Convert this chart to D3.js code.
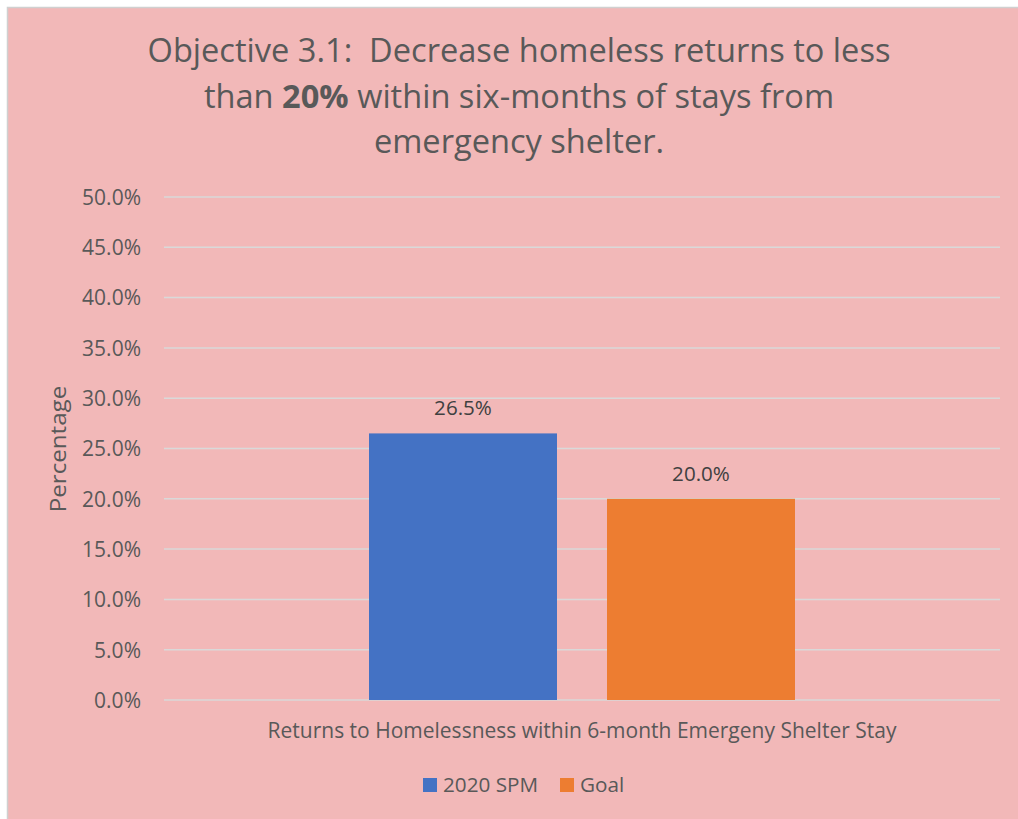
<!DOCTYPE html>
<html>
<head>
<meta charset="utf-8">
<script src="https://cdn.jsdelivr.net/npm/d3@7"></script>
<style>
  body { margin: 0; background: #fff; }
  svg { display: block; }
  svg text { font-family: "Open Sans", sans-serif; }
</style>
</head>
<body>
<svg id="chart"></svg>
<script>
// chart data
var categories = ["Returns to Homelessness within 6-month Emergeny Shelter Stay"];
var seriesNames = ["2020 SPM", "Goal"];
var seriesValues = [26.5, 20.0];
var seriesColors = ["#4472C4", "#ED7D31"];
var yTicks = [0, 5, 10, 15, 20, 25, 30, 35, 40, 45, 50];

var width = 1018, height = 819;
var margin = { left: 164, right: 18, top: 197, bottom: 119 };
var innerW = width - margin.left - margin.right,
    innerH = height - margin.top - margin.bottom;

var svg = d3.select('#chart')
    .attr('width', width)
    .attr('height', height)

// background + border
svg.append('rect')
    .attr('x', 0).attr('y', 0)
    .attr('width', width).attr('height', height)
    .attr('fill', '#fff')
svg.append('rect')
    .attr('x', 7.5).attr('y', 7.5)
    .attr('width', width + 10).attr('height', height + 10)
    .attr('fill', '#F2B8B8')
    .attr('stroke', '#D0D0D0')
    .attr('stroke-width', 1.5)

var chartGroup = svg.append('g')
    .attr('transform', 'translate(' + margin.left + ',' + margin.top + ')')

var yScale = d3.scaleLinear()
    .domain([0, 50])
    .range([innerH, 0])

var xScale = d3.scaleBand()
    .domain(categories)
    .range([0, innerW])

// two bars of 188px with a 50px gap, centred in the band
var inner = d3.scaleBand()
    .domain(seriesNames)
    .range([xScale.bandwidth() / 2 - 213, xScale.bandwidth() / 2 + 213])
    .paddingInner(50 / 238)

// gridlines
chartGroup.selectAll('line.grid')
    .data(yTicks)
    .enter()
    .append('line')
    .attr('class', 'grid')
    .attr('x1', 0)
    .attr('x2', innerW)
    .attr('y1', d => yScale(d))
    .attr('y2', d => yScale(d))
    .attr('stroke', '#D9D9D9')
    .attr('stroke-width', 1.5)

// y axis
var yAxis = d3.axisLeft(yScale)
    .tickValues(yTicks)
    .tickFormat(d => d.toFixed(1) + '%')
    .tickSize(0)
    .tickPadding(23)

var yG = chartGroup.append('g').call(yAxis)
yG.attr('font-family', null).attr('font-size', null)
yG.select('.domain').remove()
yG.selectAll('text')
    .attr('fill', '#595959')
    .style('font-size', '21px')
    .attr('dy', '0.35em')

// bars
var bars = seriesNames.map((s, i) => ({ cat: categories[0], name: s, value: seriesValues[i], color: seriesColors[i] }))

chartGroup.selectAll('rect.bar')
    .data(bars)
    .enter()
    .append('rect')
    .attr('class', 'bar')
    .attr('x', d => xScale(d.cat) + inner(d.name))
    .attr('width', inner.bandwidth())
    .attr('y', d => yScale(d.value))
    .attr('height', d => innerH - yScale(d.value))
    .attr('fill', d => d.color)

chartGroup.selectAll('text.lbl')
    .data(bars)
    .enter()
    .append('text')
    .attr('class', 'lbl')
    .attr('x', d => xScale(d.cat) + inner(d.name) + inner.bandwidth() / 2)
    .attr('y', d => yScale(d.value) - 18)
    .attr('text-anchor', 'middle')
    .attr('fill', '#404040')
    .style('font-size', '20.6px')
    .text(d => d.value.toFixed(1) + '%')

// category label
chartGroup.append('text')
    .attr('x', xScale(categories[0]) + xScale.bandwidth() / 2)
    .attr('y', innerH + 38)
    .attr('text-anchor', 'middle')
    .attr('fill', '#595959')
    .style('font-size', '21px')
    .text(categories[0])

// axis title
svg.append('text')
    .attr('transform', 'translate(66,449) rotate(-90) scale(1.15,1)')
    .attr('text-anchor', 'middle')
    .attr('fill', '#595959')
    .style('font-size', '21px')
    .text('Percentage')

// title
var title = svg.append('text')
    .attr('text-anchor', 'middle')
    .attr('fill', '#595959')
    .style('font-size', '32.6px')
    .style('white-space', 'pre')
title.append('tspan').attr('x', 519).attr('y', 62).text('Objective 3.1:  Decrease homeless returns to less')
var l2 = title.append('tspan').attr('x', 519).attr('y', 107.5)
l2.append('tspan').text('than ')
l2.append('tspan').style('font-weight', 'bold').text('20%')
l2.append('tspan').text(' within six-months of stays from')
title.append('tspan').attr('x', 519).attr('y', 153).text('emergency shelter.')

// legend
var legend = svg.append('g')
    .attr('transform', 'translate(423,778)')
var lx = [0, 137]
var lg = legend.selectAll('g')
    .data(seriesNames)
    .enter()
    .append('g')
    .attr('transform', (d, i) => 'translate(' + lx[i] + ',0)')
lg.append('rect')
    .attr('width', 14).attr('height', 14)
    .attr('fill', (d, i) => seriesColors[i])
lg.append('text')
    .attr('x', 20).attr('y', 14)
    .attr('fill', '#595959')
    .style('font-size', '20.7px')
    .text(d => d)
</script>
</body>
</html>
